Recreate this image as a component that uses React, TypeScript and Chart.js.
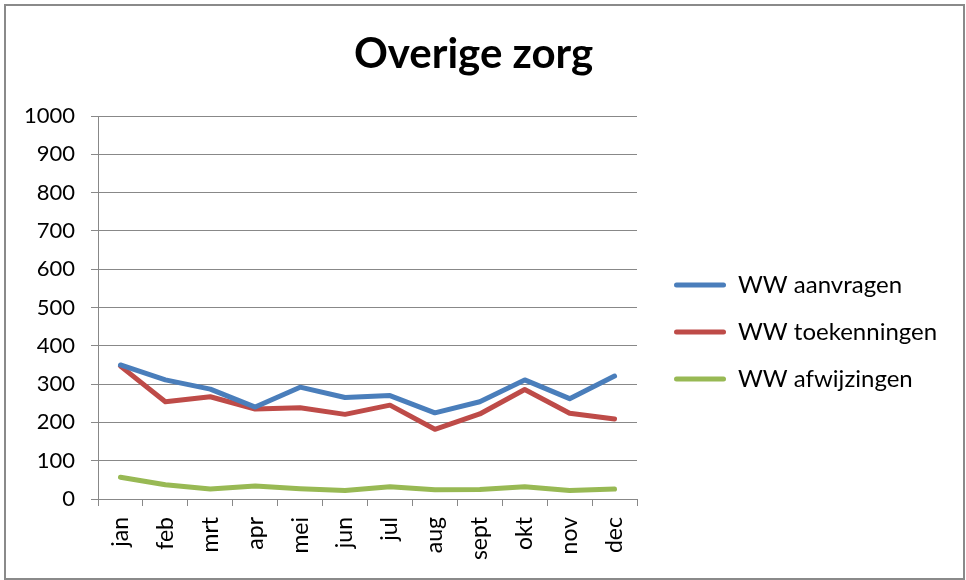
import React, { useEffect, useRef } from 'react';
import { Chart, registerables } from 'chart.js';

Chart.register(...registerables);

const categories = ['jan', 'feb', 'mrt', 'apr', 'mei', 'jun', 'jul', 'aug', 'sept', 'okt', 'nov', 'dec'];
const aanvragen = [350, 311, 287, 240, 292, 265, 270, 225, 254, 311, 262, 321];
const toekenningen = [347, 254, 267, 235, 238, 221, 245, 182, 222, 286, 224, 209];
const afwijzingen = [57, 37, 26, 34, 27, 22, 32, 24, 25, 32, 22, 26];
const seriesNames = ['WW aanvragen', 'WW toekenningen', 'WW afwijzingen'];
const seriesColors = ['#4A7EBB', '#BE4B48', '#98B954'];
const yMin = 0;
const yMax = 1000;
const yStep = 100;
const titleText = 'Overige zorg';

const FONT = 'Lato, "Open Sans", sans-serif';
const W = 966;
const H = 580;

export default function App() {
  const ref = useRef<HTMLCanvasElement | null>(null);

  useEffect(() => {
    const canvas = ref.current;
    if (!canvas) return;

    const legendFont = 24;
    const legendPad = 23;
    const boxW = 52;
    const spacer = 14;
    const plotRight = 637;

    const mctx = document.createElement('canvas').getContext('2d')!;
    mctx.font = `${legendFont}px ${FONT}`;
    const maxText = Math.max(...seriesNames.map((s) => mctx.measureText(s).width));
    const legendW = legendPad + boxW + legendFont / 2 + maxText + 10;
    const padRight = Math.max(0, W - plotRight - spacer - legendW);

    const data = [aanvragen, toekenningen, afwijzingen];

    const chart = new Chart(canvas, {
      type: 'line',
      data: {
        labels: categories,
        datasets: data.map((d, i) => ({
          label: seriesNames[i],
          data: d,
          borderColor: seriesColors[i],
          backgroundColor: seriesColors[i],
          borderWidth: 5,
          pointRadius: 0,
          pointHoverRadius: 0,
          tension: 0,
          borderCapStyle: 'round' as const,
          borderJoinStyle: 'round' as const,
        })),
      },
      options: {
        animation: false,
        responsive: false,
        maintainAspectRatio: false,
        layout: { padding: { left: 0, top: 0, bottom: 0, right: padRight } },
        plugins: {
          tooltip: { enabled: false },
          title: {
            display: true,
            text: titleText,
            color: '#000',
            font: { family: FONT, size: 42, weight: 'bold', lineHeight: 1.2 },
            padding: { top: 29, bottom: 36.6 },
          },
          legend: {
            position: 'right',
            align: 'center',
            maxWidth: 600,
            title: { display: true, text: '', font: { size: 10, lineHeight: 1 }, padding: { top: 74, bottom: 0 } },
            labels: {
              color: '#000',
              font: { family: FONT, size: legendFont },
              boxWidth: boxW,
              boxHeight: 5,
              padding: legendPad,
              useBorderRadius: true,
              borderRadius: 2.5,
              generateLabels: (c: any) =>
                Chart.defaults.plugins.legend.labels.generateLabels(c).map((l: any) => ({
                  ...l,
                  lineWidth: 0,
                  fillStyle: l.strokeStyle,
                })),
            },
          },
        },
        scales: {
          x: {
            type: 'category',
            offset: true,
            grid: {
              display: true,
              offset: true,
              drawOnChartArea: false,
              drawTicks: true,
              tickLength: 7,
              color: '#888888',
              lineWidth: 1,
            },
            border: { display: true, color: '#888888', width: 1 },
            ticks: {
              color: '#000',
              font: { family: FONT, size: 23 },
              minRotation: 90,
              maxRotation: 90,
              padding: 11,
              autoSkip: false,
            },
            afterFit: (s: any) => {
              s.height = H - 499;
            },
          },
          y: {
            min: yMin,
            max: yMax,
            grid: { color: '#888888', lineWidth: 1, tickLength: 7, drawTicks: true },
            border: { display: true, color: '#888888', width: 1 },
            ticks: {
              stepSize: yStep,
              color: '#000',
              font: { family: FONT, size: 22 },
              padding: 16,
              callback: (v: any) => String(v),
            },
            afterFit: (s: any) => {
              s.width = 98;
            },
          },
          y2: {
            position: 'right',
            display: true,
            grid: { display: false, drawTicks: false },
            border: { display: false },
            ticks: { display: false },
            afterFit: (s: any) => {
              s.width = spacer;
            },
          },
        },
      },
    });

    return () => chart.destroy();
  }, []);

  return (
    <div style={{ position: 'absolute', left: 0, top: 0, width: W, height: H, background: '#fff' }}>
      <canvas ref={ref} width={W} height={H} style={{ position: 'absolute', left: 0, top: 0, width: W, height: H }} />
      <div
        style={{
          position: 'absolute',
          left: 4,
          top: 4,
          width: 961,
          height: 576,
          border: '2px solid #8a8a8a',
          boxSizing: 'border-box',
          pointerEvents: 'none',
        }}
      />
    </div>
  );
}
